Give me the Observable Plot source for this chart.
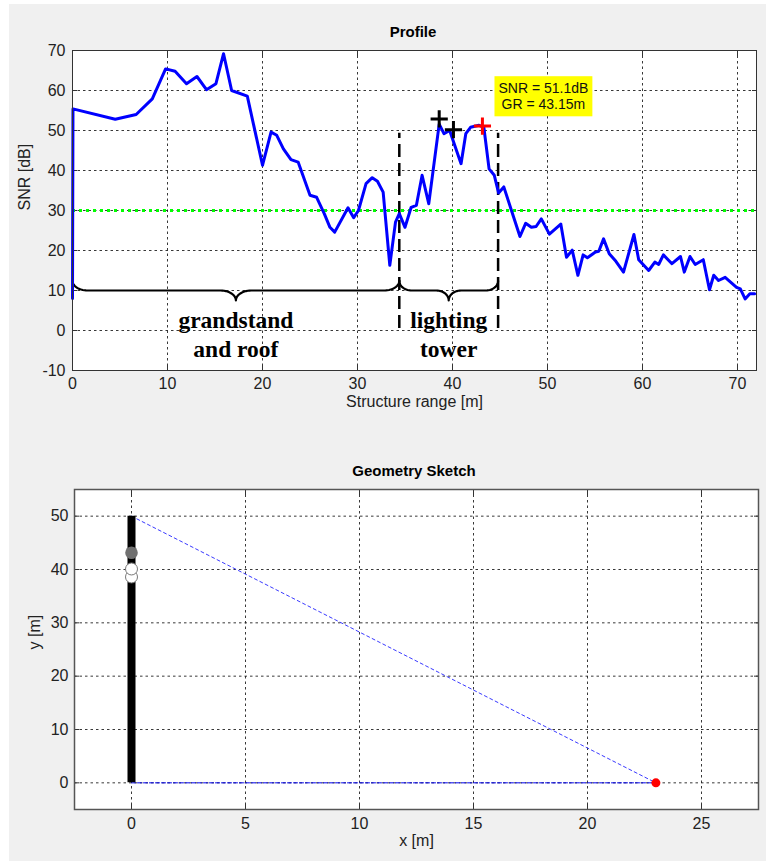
<!DOCTYPE html>
<html><head><meta charset="utf-8">
<script src="https://cdn.jsdelivr.net/npm/d3@7"></script>
<script src="https://cdn.jsdelivr.net/npm/@observablehq/plot@0.6"></script>
<style>
body{margin:0;background:#fff;font-family:"Liberation Sans",Arial,sans-serif;}
#fig{position:relative;width:766px;height:861px;overflow:hidden;}
#bg{position:absolute;left:9px;top:4px;width:757px;height:857px;background:#f0f0f0;}
.title{position:absolute;font-weight:bold;font-size:15px;color:#000;transform:translate(-50%,-50%);white-space:nowrap;}
#p1,#p2{position:absolute;left:0;}
</style></head><body>
<div id="fig"><div id="bg"></div>
<div class="title" style="left:413px;top:31px">Profile</div>
<div class="title" style="left:414px;top:470px">Geometry Sketch</div>
<div id="p1" style="top:0px"></div>
<div id="p2" style="top:440px"></div>
</div>
<script>
// ---------- Profile data ----------
const structureRange = [0, 0.05, 4.5, 6.7, 8.4, 9.8, 10.8, 12.0, 13.1, 14.1, 15.1, 15.9, 16.75, 18.4, 20.0, 20.9, 21.5, 22.2, 23.0, 23.75, 25.0, 25.7, 26.5, 27.1, 27.6, 29.0, 29.6, 30.1, 30.9, 31.55, 32.1, 32.7, 33.4, 34.0, 34.4, 35.0, 35.65, 36.2, 36.8, 37.5, 38.6, 39.1, 39.7, 40.9, 41.4, 41.9, 42.8, 43.3, 43.85, 44.4, 44.85, 45.4, 47.1, 47.7, 48.3, 48.8, 49.35, 50.2, 51.4, 52.0, 52.6, 53.2, 53.75, 54.2, 55.05, 55.4, 55.9, 56.5, 57.2, 58.0, 59.1, 59.6, 60.65, 61.3, 61.7, 62.2, 63.1, 64.0, 64.4, 65.0, 65.55, 66.4, 67.05, 67.5, 68.0, 68.7, 69.9, 70.3, 70.8, 71.3, 71.8];
const snrValues = [8, 55.4, 52.8, 54, 57.9, 65.4, 64.8, 61.7, 63.5, 60.2, 61.7, 69.2, 60, 58.6, 41.3, 49.6, 48.8, 45.4, 42.7, 42.1, 33.8, 33.3, 29.2, 25.8, 24.6, 30.7, 28.2, 30, 36.7, 38.2, 37.3, 34.6, 16.3, 27.1, 29.2, 25.8, 30.8, 31.3, 38.8, 31.7, 51.6, 49.2, 50.0, 41.7, 49.2, 50.8, 51.3, 50.8, 40.4, 38.8, 34.4, 35.9, 23.5, 26.8, 25.8, 26.0, 27.9, 24.1, 26.6, 18.3, 20.1, 13.8, 18.9, 18.2, 19.6, 19.8, 22.9, 19.2, 17.3, 14.6, 24.0, 17.7, 15.0, 17.1, 16.5, 18.9, 16.7, 18.5, 14.6, 18.5, 16.5, 17.7, 10.2, 13.8, 12.5, 13.3, 10.8, 10.4, 7.9, 9.2, 9.2];
const snrThreshold = 30;
const peakRanges = [38.6, 40.1];
const peakSNR = [52.9, 50.2];
const selectedGR = 43.15;
const selectedSNR = 51.1;
const towerBounds = [34.4, 44.8];
const braceStart = [0, 34.4];
const braceEnd = [34.4, 44.8];
const braceLabels = ["grandstand\nand roof", "lighting\ntower"];
const braceLevel = 10;
const labelLevel = -0.6;
const dashedTop = 49.3, dashedBottom = 0.5;
const xTicks1 = [0, 10, 20, 30, 40, 50, 60, 70];
const yTicks1 = [-10, 0, 10, 20, 30, 40, 50, 60, 70];

// ---------- Geometry data ----------
const towerX = 0;
const towerHeight = 50;
const receiverX = 23;
const receiverY = 0;
const xTicks2 = [0, 5, 10, 15, 20, 25];
const yTicks2 = [0, 10, 20, 30, 40, 50];

const FONT = "'Liberation Sans', Arial, sans-serif";
const profile = structureRange.map((r, i) => ({r, snr: snrValues[i]}));
const peaks = peakRanges.map((r, i) => ({r, snr: peakSNR[i]}));

// brace outline points (decoration shape derived from brace extents)
function bracePoints(x0, x1, id) {
  const pts = [];
  const xm = (x0 + x1) / 2;
  const c = Math.min(1.6, (x1 - x0) / 8), c2 = Math.min(1.6, (x1 - x0) / 8);
  const up = 2.4, down = 2.5, n = 14;
  for (let i = 0; i <= n; i++) { const t = i / n * Math.PI / 2; pts.push({id, x: x0 + c * (1 - Math.cos(t)), y: braceLevel + up * (1 - Math.sin(t))}); }
  for (let i = 0; i <= n; i++) { const t = i / n * Math.PI / 2; pts.push({id, x: xm - c2 + c2 * Math.sin(t), y: braceLevel - down + down * Math.cos(t)}); }
  for (let i = n; i >= 0; i--) { const t = i / n * Math.PI / 2; pts.push({id, x: xm + c2 - c2 * Math.sin(t), y: braceLevel - down + down * Math.cos(t)}); }
  for (let i = n; i >= 0; i--) { const t = i / n * Math.PI / 2; pts.push({id, x: x1 - c * (1 - Math.cos(t)), y: braceLevel + up * (1 - Math.sin(t))}); }
  return pts;
}
const braces = braceStart.flatMap((s, i) => bracePoints(s, braceEnd[i], i));
const braceMid = braceStart.map((s, i) => ({x: (s + braceEnd[i]) / 2, label: braceLabels[i]}));

const gridStyle = {stroke: "#222", strokeOpacity: 0.9, strokeWidth: 1, strokeDasharray: "2.5,3"};
const noText = () => "";
const plain = d => String(d);

const p1 = Plot.plot({
  width: 766, height: 430,
  marginTop: 50, marginBottom: 60, marginLeft: 72, marginRight: 10,
  style: {background: "transparent", fontFamily: FONT, fontSize: "16px", color: "#222", overflow: "visible"},
  x: {domain: [0, 72]},
  y: {domain: [-10, 70]},
  marks: [
    Plot.frame({fill: "white", stroke: null}),
    Plot.gridX(xTicks1, gridStyle),
    Plot.gridY(yTicks1, gridStyle),
    Plot.axisX(xTicks1, {anchor: "bottom", tickSize: 0, tickPadding: 7, label: null, tickFormat: plain}),
    Plot.axisY(yTicks1, {anchor: "left", tickSize: 0, tickPadding: 7, label: null, tickFormat: plain}),
    Plot.axisX(xTicks1, {anchor: "bottom", tickSize: -5, tickFormat: noText, label: null, stroke: "#333"}),
    Plot.axisX(xTicks1, {anchor: "top", tickSize: -5, tickFormat: noText, label: null, stroke: "#333"}),
    Plot.axisY(yTicks1, {anchor: "left", tickSize: -5, tickFormat: noText, label: null, stroke: "#333"}),
    Plot.axisY(yTicks1, {anchor: "right", tickSize: -5, tickFormat: noText, label: null, stroke: "#333"}),
    Plot.ruleY([snrThreshold], {stroke: "#00ff00", strokeWidth: 3.2, strokeDasharray: "3,4"}),
    Plot.line(braces, {x: "x", y: "y", z: "id", stroke: "black", strokeWidth: 2.2}),
    Plot.ruleX(towerBounds, {y1: dashedBottom, y2: dashedTop, stroke: "black", strokeWidth: 2.5, strokeDasharray: "13,6"}),
    Plot.line(profile, {x: "r", y: "snr", stroke: "#0000ff", strokeWidth: 3, strokeLinejoin: "round"}),
    Plot.dot(peaks, {x: "r", y: "snr", symbol: "plus", r: 5.6, stroke: "black", strokeWidth: 3}),
    Plot.dot([{r: selectedGR, snr: selectedSNR}], {x: "r", y: "snr", symbol: "plus", r: 5.6, stroke: "#ff0000", strokeWidth: 3}),
    Plot.text([{r: selectedGR, snr: selectedSNR}], {x: "r", y: "snr", text: d => `SNR = ${d.snr}dB\nGR = ${d.r}m`, dx: 61, dy: -30, fontSize: 14, lineHeight: 1.15, fill: "#111"}),
    Plot.text(braceMid, {x: "x", y: () => labelLevel, text: "label", fontFamily: "'Liberation Serif', 'Times New Roman', serif", fontWeight: "bold", fontSize: 23.5, lineHeight: 1.23, fill: "#000"}),
    Plot.text(["Structure range [m]"], {frameAnchor: "bottom", dy: 36, text: d => d, fontSize: 16, fill: "#222"}),
    Plot.text(["SNR [dB]"], {frameAnchor: "left", dx: -48, rotate: -90, text: d => d, fontSize: 16, fill: "#222"}),
    Plot.frame({stroke: "#333", strokeWidth: 1})
  ]
});
document.getElementById("p1").appendChild(p1);

// yellow background box behind the annotation text
{
  const t = Array.from(p1.querySelectorAll("text")).find(e => e.textContent.includes("SNR ="));
  if (t) {
    const bb = t.getBBox();
    const rect = document.createElementNS("http://www.w3.org/2000/svg", "rect");
    const px = 4, py = 4;
    rect.setAttribute("x", bb.x - px);
    rect.setAttribute("y", bb.y - py);
    rect.setAttribute("width", bb.width + 2 * px);
    rect.setAttribute("height", bb.height + 2 * py);
    rect.setAttribute("fill", "#ffff00");
    if (t.getAttribute("transform")) rect.setAttribute("transform", t.getAttribute("transform"));
    t.parentNode.insertBefore(rect, t);
  }
}

const p2 = Plot.plot({
  width: 766, height: 421,
  marginTop: 49, marginBottom: 52, marginLeft: 74, marginRight: 8,
  style: {background: "transparent", fontFamily: FONT, fontSize: "16px", color: "#222", overflow: "visible"},
  x: {domain: [-2.5, 27.5]},
  y: {domain: [-5, 55]},
  marks: [
    Plot.frame({fill: "white", stroke: null}),
    Plot.gridX(xTicks2, gridStyle),
    Plot.gridY(yTicks2, gridStyle),
    Plot.axisX(xTicks2, {anchor: "bottom", tickSize: 0, tickPadding: 8, label: null, tickFormat: plain}),
    Plot.axisY(yTicks2, {anchor: "left", tickSize: 0, tickPadding: 6, label: null, tickFormat: plain}),
    Plot.axisX(xTicks2, {anchor: "bottom", tickSize: -5, tickFormat: noText, label: null, stroke: "#333"}),
    Plot.axisX(xTicks2, {anchor: "top", tickSize: -5, tickFormat: noText, label: null, stroke: "#333"}),
    Plot.axisY(yTicks2, {anchor: "left", tickSize: -5, tickFormat: noText, label: null, stroke: "#333"}),
    Plot.axisY(yTicks2, {anchor: "right", tickSize: -5, tickFormat: noText, label: null, stroke: "#333"}),
    Plot.line([{x: towerX, y: receiverY}, {x: receiverX, y: receiverY}], {x: "x", y: "y", stroke: "#0000ee", strokeWidth: 1, strokeDasharray: "4,2"}),
    Plot.line([{x: towerX, y: towerHeight}, {x: receiverX, y: receiverY}], {x: "x", y: "y", stroke: "#3a3aff", strokeWidth: 1, strokeDasharray: "3,3"}),
    Plot.ruleX([towerX], {y1: 0, y2: towerHeight, stroke: "black", strokeWidth: 8}),
    Plot.dot(peakRanges, {x: () => towerX, y: d => d, r: 6, fill: "white", stroke: "#777", strokeWidth: 1}),
    Plot.dot([selectedGR], {x: () => towerX, y: d => d, r: 6.3, fill: "#707070"}),
    Plot.dot([{x: receiverX, y: receiverY}], {x: "x", y: "y", r: 4.5, fill: "#ff0000"}),
    Plot.text(["x [m]"], {frameAnchor: "bottom", dy: 36, text: d => d, fontSize: 16, fill: "#222"}),
    Plot.text(["y [m]"], {frameAnchor: "left", dx: -40, rotate: -90, text: d => d, fontSize: 16, fill: "#222"}),
    Plot.frame({stroke: "#555", strokeWidth: 1.5})
  ]
});
document.getElementById("p2").appendChild(p2);
</script>
</body></html>
